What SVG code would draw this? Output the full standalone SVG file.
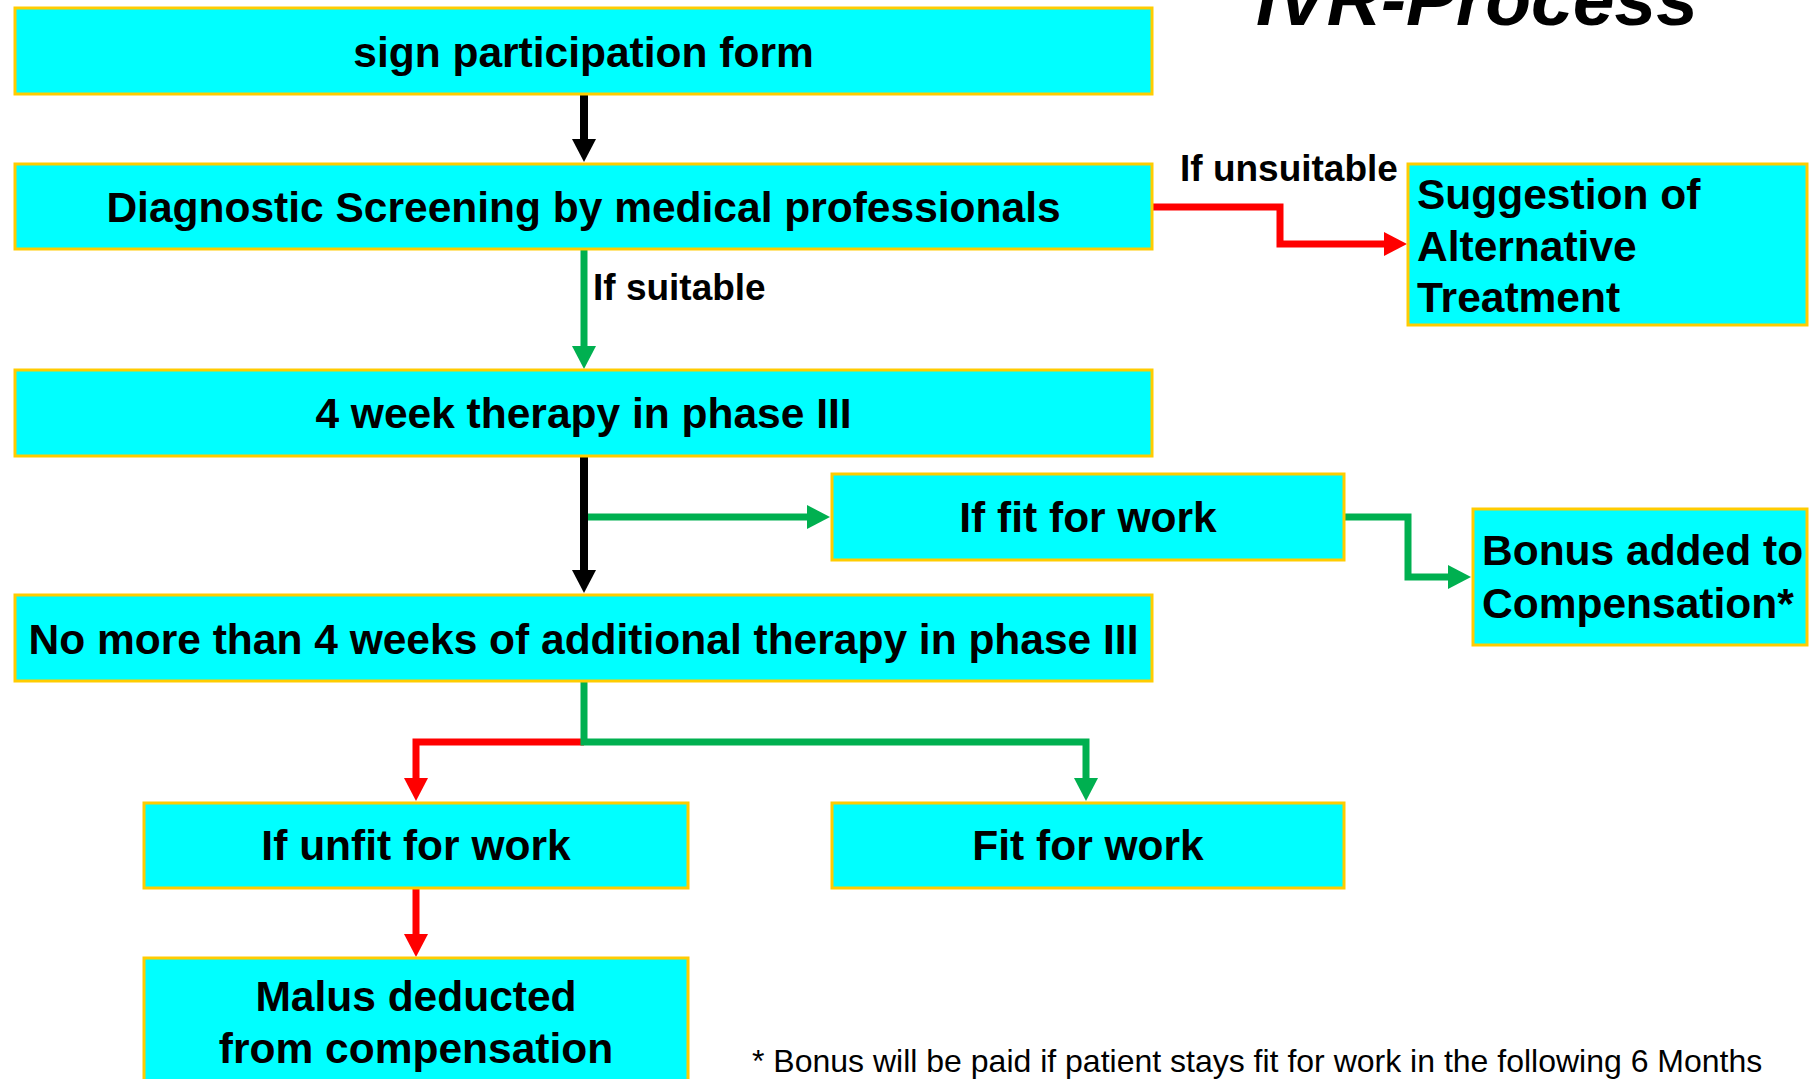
<svg xmlns="http://www.w3.org/2000/svg" width="1812" height="1079" viewBox="0 0 1812 1079">
<style>
.box{fill:#00FFFF;stroke:#FFCC00;stroke-width:3}
.t{font-family:"Liberation Sans",Arial,sans-serif;font-weight:bold;font-size:42.5px;fill:#000}
.c{text-anchor:middle}
.lbl{font-family:"Liberation Sans",Arial,sans-serif;font-weight:bold;font-size:37px;fill:#000}
.note{font-family:"Liberation Sans",Arial,sans-serif;font-size:32px;fill:#000}
.title{font-family:"Liberation Sans",Arial,sans-serif;font-weight:bold;font-style:italic;font-size:75px;fill:#000}
.k{fill:none;stroke:#000;stroke-width:8}
.g{fill:none;stroke:#00B050;stroke-width:7}
.r{fill:none;stroke:#FF0000;stroke-width:7}
</style>
<defs>
<marker id="ak" markerUnits="userSpaceOnUse" markerWidth="24" markerHeight="24" refX="0" refY="12" orient="auto" overflow="visible"><path d="M0,0 L23,12 L0,24 z" fill="#000"/></marker>
<marker id="ag" markerUnits="userSpaceOnUse" markerWidth="24" markerHeight="24" refX="0" refY="12" orient="auto" overflow="visible"><path d="M0,0 L23,12 L0,24 z" fill="#00B050"/></marker>
<marker id="ar" markerUnits="userSpaceOnUse" markerWidth="24" markerHeight="24" refX="0" refY="12" orient="auto" overflow="visible"><path d="M0,0 L23,12 L0,24 z" fill="#FF0000"/></marker>
</defs>
<rect width="1812" height="1079" fill="#fff"/>
<text class="title" x="1256" y="25">IVR-Process</text>
<g id="connectors">
<path class="k" d="M584,95 V139" marker-end="url(#ak)"/>
<path class="g" d="M584,250 V346" marker-end="url(#ag)"/>
<path class="r" d="M1153,207 H1280 V244 H1384" marker-end="url(#ar)"/>
<path class="g" d="M587,517 H807" marker-end="url(#ag)"/>
<path class="k" d="M584,457 V570" marker-end="url(#ak)"/>
<path class="g" d="M1345,517 H1408 V577 H1448" marker-end="url(#ag)"/>
<path class="r" d="M584,742 H416 V778" marker-end="url(#ar)"/>
<path class="g" d="M584,682 V742 H1086 V778" marker-end="url(#ag)"/>
<path class="r" d="M416,889 V934" marker-end="url(#ar)"/>
<text class="lbl" x="1180" y="181">If unsuitable</text>
<text class="lbl" x="593" y="300">If suitable</text>
</g>
<g id="n1"><rect class="box" x="15" y="8" width="1137" height="86"/><text class="t c" x="583.5" y="67">sign participation form</text></g>
<g id="n2"><rect class="box" x="15" y="164" width="1137" height="85"/><text class="t c" x="583.5" y="222">Diagnostic Screening by medical professionals</text></g>
<g id="n3"><rect class="box" x="1408" y="164" width="399" height="161"/><text class="t" x="1417" y="209">Suggestion of</text><text class="t" x="1417" y="261">Alternative</text><text class="t" x="1417" y="312">Treatment</text></g>
<g id="n4"><rect class="box" x="15" y="370" width="1137" height="86"/><text class="t c" x="583.5" y="428">4 week therapy in phase III</text></g>
<g id="n5"><rect class="box" x="832" y="474" width="512" height="86"/><text class="t c" x="1088" y="532">If fit for work</text></g>
<g id="n6"><rect class="box" x="1473" y="509" width="334" height="136"/><text class="t" x="1482" y="565">Bonus added to</text><text class="t" x="1482" y="618">Compensation*</text></g>
<g id="n7"><rect class="box" x="15" y="595" width="1137" height="86"/><text class="t c" x="583.5" y="654">No more than 4 weeks of additional therapy in phase III</text></g>
<g id="n8"><rect class="box" x="144" y="803" width="544" height="85"/><text class="t c" x="416" y="860">If unfit for work</text></g>
<g id="n9"><rect class="box" x="832" y="803" width="512" height="85"/><text class="t c" x="1088" y="860">Fit for work</text></g>
<g id="n10"><rect class="box" x="144" y="958" width="544" height="140"/><text class="t c" x="416" y="1011">Malus deducted</text><text class="t c" x="416" y="1063">from compensation</text></g>
<text class="note" x="752" y="1072">* Bonus will be paid if patient stays fit for work in the following 6 Months</text>
</svg>
